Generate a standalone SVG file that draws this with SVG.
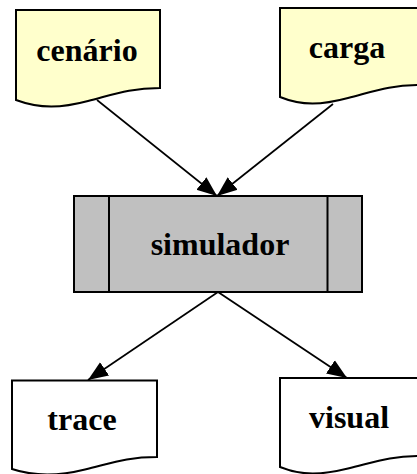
<svg xmlns="http://www.w3.org/2000/svg" width="417" height="474" viewBox="0 0 417 474">
<style>
.doc{stroke:#000;stroke-width:2;}
.in{fill:#FFFFCC;}
.out{fill:#FFFFFF;}
.proc{fill:#C0C0C0;stroke:#000;stroke-width:2;}
.lbl{font-family:"Liberation Serif","Times New Roman",serif;font-weight:bold;font-size:32px;fill:#000;text-anchor:middle;}
.edge{stroke:#000;stroke-width:1.7;fill:none;marker-end:url(#arr);}
</style>
<defs>
<marker id="arr" markerUnits="userSpaceOnUse" markerWidth="22" markerHeight="18" refX="20" refY="9" orient="auto">
<path d="M0,1 L20,9 L0,17 Z" fill="#000"/>
</marker>
</defs>
<rect width="417" height="474" fill="#fff"/>
<g id="connectors">
<line class="edge" x1="97" y1="100" x2="217" y2="196"/>
<line class="edge" x1="333" y1="104" x2="217" y2="196"/>
<line class="edge" x1="218" y1="292" x2="88" y2="380"/>
<line class="edge" x1="218" y1="292" x2="347" y2="378"/>
</g>
<g id="cenario">
<path class="doc in" d="M16,10 H160 V88 C130,88 115,94 88,101 C62,108 40,109 16,100 Z"/>
<text class="lbl" x="87" y="61">cenário</text>
</g>
<g id="carga">
<path class="doc in" d="M280,8 H420 V85 C390,85 375,91 348,98 C322,105 302,106 280,97 Z"/>
<text class="lbl" x="347" y="58">carga</text>
</g>
<g id="simulador">
<rect class="proc" x="74" y="196" width="288" height="96"/>
<line x1="109" y1="196" x2="109" y2="292" stroke="#000" stroke-width="2"/>
<line x1="327.5" y1="196" x2="327.5" y2="292" stroke="#000" stroke-width="2"/>
<text class="lbl" x="220" y="255">simulador</text>
</g>
<g id="trace">
<path class="doc out" d="M12,380.5 H157 V457 C127,457 112,463 85,469.5 C59,476 36,477 12,469 Z"/>
<text class="lbl" x="82" y="430">trace</text>
</g>
<g id="visual">
<path class="doc out" d="M280,378 H420 V456 C390,456 375,462 348,468.5 C322,475 302,476 280,467 Z"/>
<text class="lbl" x="349" y="428">visual</text>
</g>
</svg>
